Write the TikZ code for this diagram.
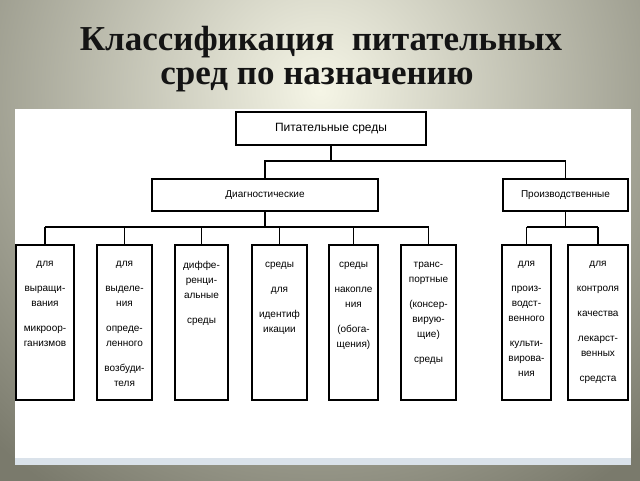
\documentclass[tikz,border=0pt]{standalone}
\usepackage{fontspec}
\setmainfont{Liberation Serif}
\newfontfamily\boxfont{Liberation Sans}

\definecolor{bgin}{RGB}{245,245,230}
\definecolor{bgout}{RGB}{122,122,108}
\definecolor{stripe}{RGB}{218,226,234}

\tikzset{
  headbox/.style={draw, line width=2.4pt, inner sep=0pt, outer sep=0pt,
    minimum height=32pt, font=\boxfont\fontsize{10}{12}\selectfont},
  col/.style={draw, line width=2.4pt, minimum height=155pt, inner sep=0pt, outer sep=0pt},
  coltxt/.style={font=\boxfont\fontsize{10}{15}\selectfont, align=center,
    anchor=north, inner sep=0pt, execute at begin node=\strut},
  link/.style={line width=1.6pt},
  ttl/.style={font=\bfseries\fontsize{35}{34}\selectfont, anchor=base, text=black!92}
}

\begin{document}
\begin{tikzpicture}[x=1pt,y=-1pt]
\useasboundingbox (0,0) rectangle (640,480);

% Background of the slide
\begin{scope}
\clip (-3,-3) rectangle (643,483);
\fill[bgout] (-3,-3) rectangle (643,483);
\shade[inner color=bgin, outer color=bgout] (320,90) circle (480);
\end{scope}

% Title
\node[ttl] (ttl1) at (321,50) {Классификация\ \ питательных};
\node[ttl] (ttl2) at (317,84) {сред по назначению};

% White panel
\fill[white] (15,109) rectangle (631,458);
\fill[stripe] (15,458) rectangle (631,465);

% Upper levels
\node[headbox, minimum width=190pt, minimum height=33pt,
  font=\boxfont\fontsize{12}{14}\selectfont] (root) at (331,128.5) {Питательные среды};
\node[headbox, minimum width=226pt] (diag) at (265,195) {Диагностические};
\node[headbox, minimum width=125pt] (prod) at (565.5,195) {Производственные};

% Bus lines
\coordinate (bus) at (0,161);
\coordinate (low) at (0,227);

% Lower level: columns
\node[col, minimum width=58pt] (b1) at (45,322.5) {};
\node[col, minimum width=55pt] (b2) at (124.5,322.5) {};
\node[col, minimum width=53pt] (b3) at (201.5,322.5) {};
\node[col, minimum width=55pt] (b4) at (279.5,322.5) {};
\node[col, minimum width=49pt] (b5) at (353.5,322.5) {};
\node[col, minimum width=55pt] (b6) at (428.5,322.5) {};
\node[col, minimum width=49pt] (b7) at (526.5,322.5) {};
\node[col, minimum width=60pt] (b8) at (598,322.5) {};

% Column texts
\node[coltxt] (t1) at ([yshift=-16.5pt]b1.north) {для\\[10pt] выращи-\\ вания\\[10pt] микроор-\\ ганизмов};
\node[coltxt] (t2) at ([yshift=-16.5pt]b2.north) {для\\[10pt] выделе-\\ ния\\[10pt] опреде-\\ ленного\\[10pt] возбуди-\\ теля};
\node[coltxt] (t3) at ([yshift=-16.5pt]b3.north) {диффе-\\ ренци-\\ альные\\[10pt] среды};
\node[coltxt] (t4) at ([yshift=-16.5pt]b4.north) {среды\\[10pt] для\\[10pt] идентиф\\ икации};
\node[coltxt] (t5) at ([yshift=-16.5pt]b5.north) {среды\\[10pt] накопле\\ ния\\[10pt] (обога-\\ щения)};
\node[coltxt] (t6) at ([yshift=-16.5pt]b6.north) {транс-\\ портные\\[10pt] (консер-\\ вирую-\\ щие)\\[10pt] среды};
\node[coltxt] (t7) at ([yshift=-16.5pt]b7.north) {для\\[10pt] произ-\\ водст-\\ венного\\[10pt] культи-\\ вирова-\\ ния};
\node[coltxt] (t8) at ([yshift=-16.5pt]b8.north) {для\\[10pt] контроля\\[10pt] качества\\[10pt] лекарст-\\ венных\\[10pt] средста};

% Connectors
\draw[link] (root.south) -- (root.south |- bus);
\draw[link] (diag.north) -- (diag.north |- bus) -| (prod.north);
\draw[link] (diag.south) -- (diag.south |- low);
\draw[link] (prod.south) -- (prod.south |- low);
\draw[link] (b1.north |- low) -- (b6.north |- low);
\draw[link] (b7.north |- low) -- (b8.north |- low);
\foreach \i in {1,...,8}
  \draw[link] (b\i.north |- low) -- (b\i.north);

\end{tikzpicture}
\end{document}
